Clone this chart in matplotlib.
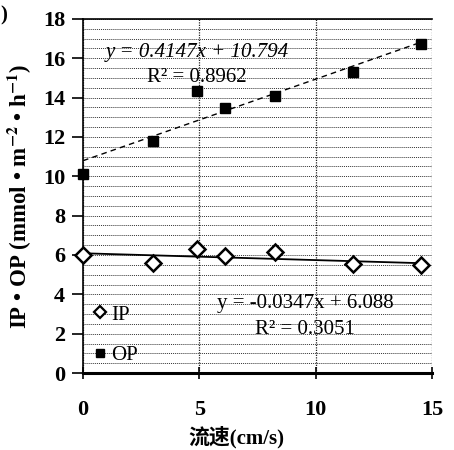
import numpy as np
import matplotlib
matplotlib.use("Agg")
import matplotlib.pyplot as plt
from matplotlib.lines import Line2D

# flow velocity (cm/s)
flow = [0, 3.0, 4.9, 6.1, 8.25, 11.6, 14.5]
ip_vals = [6.0, 5.6, 6.3, 5.95, 6.15, 5.55, 5.5]
op_vals = [10.1, 11.8, 14.35, 13.45, 14.1, 15.3, 16.7]

# linear trend coefficients (slope, intercept, R2)
ip_fit = (-0.0347, 6.088, 0.3051)
op_fit = (0.4147, 10.794, 0.8962)

x_ticks = [0, 5, 10, 15]
y_ticks = [0, 2, 4, 6, 8, 10, 12, 14, 16, 18]

serif = ["Liberation Serif", "DejaVu Serif"]
cjk = ["Liberation Serif", "Noto Sans CJK SC"]
plt.rcParams["mathtext.fontset"] = "stix"

fig = plt.figure(figsize=(4.54, 4.5), dpi=100)
ax = fig.add_axes([0.183, 0.171, 0.769, 0.787])

ax.set_xlim(0, 15)
ax.set_ylim(0, 18)

# grid: horizontal every 0.5, vertical at majors
ax.set_yticks(np.arange(0, 18.01, 0.5), minor=True)
ax.grid(axis="y", which="both", linestyle=(0, (1, 1)), color="#333333", linewidth=0.7)
ax.grid(axis="x", which="major", linestyle=(0, (1, 1)), color="#222222", linewidth=0.9)
ax.set_axisbelow(True)

xs = np.array([min(flow), max(flow)])
ax.plot(xs, ip_fit[0] * xs + ip_fit[1], color="black", linewidth=1.3, zorder=2)
ax.plot(xs, op_fit[0] * xs + op_fit[1], color="black", linewidth=1.0,
        linestyle=(0, (4, 3)), zorder=2)

ax.plot(flow, ip_vals, linestyle="none", marker="D", markersize=8,
        markerfacecolor="white", markeredgecolor="black", markeredgewidth=1.8,
        clip_on=False, zorder=3)
ax.plot(flow, op_vals, linestyle="none", marker="s", markersize=7.5,
        color="black", clip_on=False, zorder=3)

ax.text(4.9, 16.3, f"y = {op_fit[0]}x + {op_fit[1]}", ha="center", va="center",
        family=serif, style="italic", fontsize=15)
ax.text(4.9, 15.0, f"R² = {op_fit[2]}", ha="center", va="center",
        family=serif, fontsize=15)
ax.text(9.55, 3.56, f"y = {ip_fit[0]}x + {ip_fit[1]}", ha="center", va="center",
        family=serif, fontsize=15)
ax.text(9.55, 2.2, f"R² = {ip_fit[2]}", ha="center", va="center",
        family=serif, fontsize=15)

handles = [
    Line2D([], [], linestyle="none", marker="D", markersize=6.5,
           markerfacecolor="white", markeredgecolor="black", markeredgewidth=1.6),
    Line2D([], [], linestyle="none", marker="s", markersize=6, color="black"),
]
ax.legend(handles, ["IP", "OP"], loc="lower left", bbox_to_anchor=(-0.03, -0.03),
          frameon=False, handlelength=0.8, handletextpad=0.15, labelspacing=1.0,
          prop={"family": serif, "size": 15})

ax.set_xticks(x_ticks)
ax.set_yticks(y_ticks)
ax.tick_params(axis="y", which="major", direction="out", length=8, width=1.2, pad=5)
ax.tick_params(axis="y", which="minor", length=0)
ax.tick_params(axis="x", direction="inout", length=9, width=1.2, pad=15)
for lab in ax.get_xticklabels() + ax.get_yticklabels():
    lab.set_fontfamily(serif)
    lab.set_fontweight("bold")
    lab.set_fontsize(16)

ax.spines["right"].set_visible(False)
ax.spines["top"].set_linewidth(1.2)
ax.spines["left"].set_linewidth(1.2)
ax.spines["bottom"].set_linewidth(2.2)

ax.set_xlabel("流速(cm/s)", family=cjk, fontweight="bold", fontsize=15, labelpad=0)
ax.xaxis.set_label_coords(0.44, -0.15)
ax.set_ylabel(r"IP • OP (mmol • m$^{\mathbf{-2}}$ • h$^{\mathbf{-1}}$)", family=serif,
              fontweight="bold", fontsize=16.5)
ax.yaxis.set_label_coords(-0.14, 0.5)

fig.text(0.0, 0.965, ")", family=serif, fontsize=15, fontweight="bold",
         ha="left", va="center")

fig.savefig("out.png", dpi=100)
